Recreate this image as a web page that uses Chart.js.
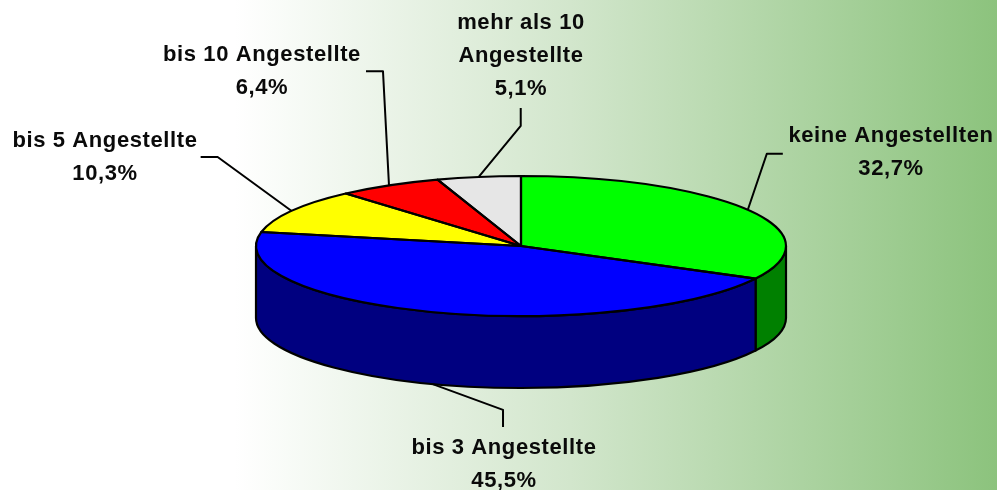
<!DOCTYPE html>
<html>
<head>
<meta charset="utf-8">
<style>
html,body{margin:0;padding:0;background:#fff;overflow:hidden}
canvas{display:block}
</style>
<script src="https://cdn.jsdelivr.net/npm/chart.js@4"></script>
</head>
<body>
<canvas id="c" width="997" height="490"></canvas>
<script>
const categories = [["keine Angestellten"], ["bis 3 Angestellte"], ["bis 5 Angestellte"], ["bis 10 Angestellte"], ["mehr als 10", "Angestellte"]];
const values = [32.7, 45.5, 10.3, 6.4, 5.1];
const topColors = ["#00ff00", "#0000ff", "#ffff00", "#ff0000", "#e6e6e6"];
const sideColors = ["#008000", "#000080", "#808000", "#800000", "#737373"];

// Layout of the tilted drawing
const RX = 265, RY = 70, DEPTH = 72;
const labelCentres = [[891, 136], [504, 448], [105, 141], [262, 55], [521, 23]];
const LINE_H = 33;
// Leader-line bends, relative to the slice's edge anchor
const leaderBends = [
  [[19, -56], [35, -56]],
  [[71, 26], [71, 43]],
  [[-74, -54], [-91, -54]],
  [[-6, -114], [-23, -114]],
  [[42, -51], [42, -69]]
];

const tilted = {
  id: 'tilted',
  beforeDraw(chart) {
    const { ctx, width, height } = chart;
    const g = ctx.createLinearGradient(235, 0, width, 0);
    g.addColorStop(0, '#ffffff');
    g.addColorStop(0.44, '#d2e6cc');
    g.addColorStop(1, '#8cc37d');
    ctx.save();
    ctx.fillStyle = g;
    ctx.fillRect(0, 0, width, height);
    ctx.restore();
  },
  beforeDatasetsDraw(chart) {
    const { ctx } = chart;
    const arcs = chart.getDatasetMeta(0).data;
    const cx = arcs[0].x, cy = arcs[0].y;
    ctx.lineWidth = 2.2;
    ctx.strokeStyle = '#000';
    ctx.lineJoin = 'round';
    // Side wall: only the front half (canvas angles 0..PI) is visible
    arcs.forEach((a, i) => {
      const norm = v => { let t = v; while (t < -Math.PI / 2) t += 2 * Math.PI; return t; };
      const s = Math.max(norm(a.startAngle), 0);
      const e = Math.min(norm(a.startAngle) + (a.endAngle - a.startAngle), Math.PI);
      if (e <= s) return;
      ctx.beginPath();
      ctx.ellipse(cx, cy, RX, RY, 0, s, e);
      ctx.lineTo(cx + RX * Math.cos(e), cy + RY * Math.sin(e) + DEPTH);
      ctx.ellipse(cx, cy + DEPTH, RX, RY, 0, e, s, true);
      ctx.closePath();
      ctx.fillStyle = sideColors[i];
      ctx.fill();
      ctx.stroke();
    });
    ctx.save();
    const r = arcs[0].outerRadius;
    ctx.translate(cx, cy);
    ctx.scale(RX / r, RY / r);
    ctx.translate(-cx, -cy);
  },
  afterDatasetsDraw(chart) {
    const { ctx } = chart;
    ctx.restore();
    const arcs = chart.getDatasetMeta(0).data;
    const cx = arcs[0].x, cy = arcs[0].y;
    ctx.save();
    ctx.strokeStyle = '#000';
    ctx.lineJoin = 'round';
    ctx.lineWidth = 2.2;
    arcs.forEach(a => {
      ctx.beginPath();
      ctx.moveTo(cx, cy);
      ctx.ellipse(cx, cy, RX, RY, 0, a.startAngle, a.endAngle);
      ctx.closePath();
      ctx.stroke();
    });
    // Leader lines from each slice's mid-angle
    ctx.lineWidth = 2;
    arcs.forEach((a, i) => {
      const mid = (a.startAngle + a.endAngle) / 2;
      const sinM = Math.sin(mid);
      const x0 = cx + RX * Math.cos(mid);
      const y0 = cy + RY * sinM + (sinM > 0 ? DEPTH : 0);
      ctx.beginPath();
      ctx.moveTo(x0, y0);
      leaderBends[i].forEach(p => ctx.lineTo(x0 + p[0], y0 + p[1]));
      ctx.stroke();
    });
    // Labels
    ctx.fillStyle = '#0a0a0a';
    ctx.font = 'bold 22px "Liberation Sans", Arial, sans-serif';
    ctx.letterSpacing = '0.6px';
    ctx.textAlign = 'center';
    ctx.textBaseline = 'middle';
    categories.forEach((lines, i) => {
      const [lx, ly] = labelCentres[i];
      const all = lines.concat(values[i].toFixed(1).replace('.', ',') + '%');
      all.forEach((t, k) => ctx.fillText(t, lx, ly + k * LINE_H));
    });
    ctx.restore();
  }
};

new Chart(document.getElementById('c'), {
  type: 'pie',
  data: {
    labels: categories.map(c => c.join(' ')),
    datasets: [{ data: values, backgroundColor: topColors, borderWidth: 0 }]
  },
  options: {
    responsive: false,
    animation: false,
    layout: { padding: { left: 281, right: 236, top: 6, bottom: 4 } },
    plugins: { legend: { display: false }, tooltip: { enabled: false } }
  },
  plugins: [tilted]
});
</script>
</body>
</html>
